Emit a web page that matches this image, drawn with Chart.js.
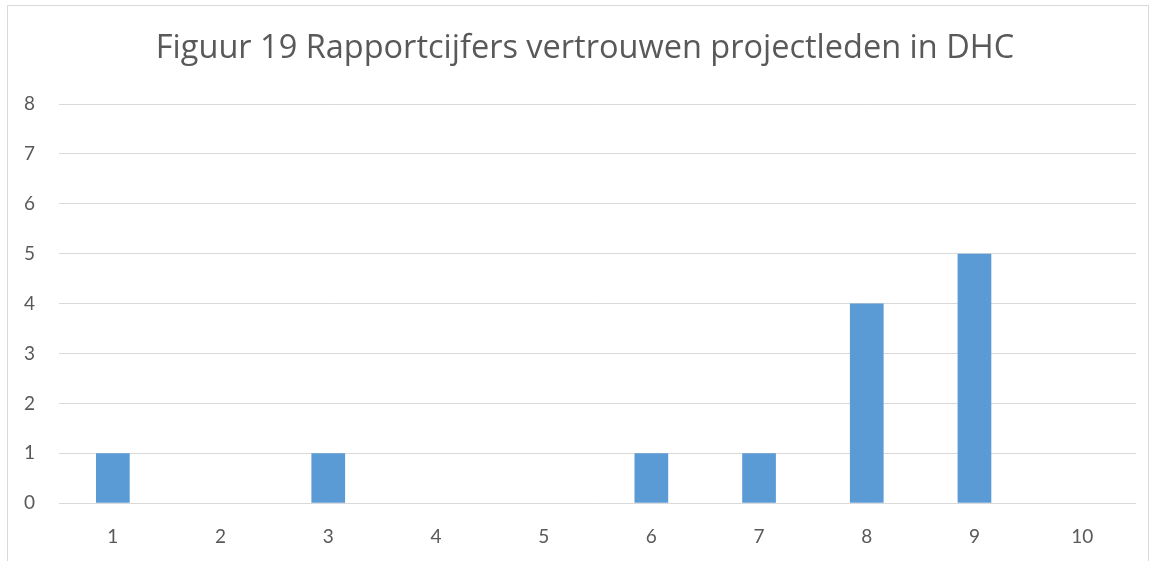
<!DOCTYPE html>
<html>
<head>
<meta charset="utf-8">
<script src="https://cdn.jsdelivr.net/npm/chart.js@4"></script>
<style>
  body { margin: 0; background: #fff; overflow: hidden; }
  #frame {
    position: absolute; left: 7px; top: 5px; width: 1140px; height: 560px;
    border: 1px solid #d9d9d9; border-bottom: none; background: #fff;
  }
  #wrap { position: absolute; left: 0; top: 1px; width: 1140px; height: 558px; }
</style>
</head>
<body>
<div id="frame"><div id="wrap"><canvas id="rapportChart"></canvas></div></div>
<script>
// rapportcijfers 1 t/m 10 en aantal projectleden per cijfer
var cijfers = ['1', '2', '3', '4', '5', '6', '7', '8', '9', '10'];
var aantallen = [1, 0, 1, 0, 0, 1, 1, 4, 5, 0];
var yTicks = [0, 1, 2, 3, 4, 5, 6, 7, 8];
var titel = 'Figuur 19 Rapportcijfers vertrouwen projectleden in DHC';

const tekstKleur = '#595959';
const lijnKleur = '#d9d9d9';

new Chart(document.getElementById('rapportChart'), {
  type: 'bar',
  data: {
    labels: cijfers,
    datasets: [{
      label: 'Aantal',
      data: aantallen,
      backgroundColor: '#5b9bd5',
      categoryPercentage: 1,
      barPercentage: 0.313
    }]
  },
  options: {
    responsive: true,
    maintainAspectRatio: false,
    animation: false,
    layout: { padding: { left: 14, right: 0, top: 0, bottom: 3 } },
    plugins: {
      legend: { display: false },
      tooltip: { enabled: false },
      title: {
        display: true,
        text: titel,
        color: tekstKleur,
        font: { family: 'Open Sans', size: 32.5, weight: 'normal' },
        padding: { top: 22, bottom: 36 }
      }
    },
    scales: {
      x: {
        grid: { display: false },
        border: { display: false },
        ticks: { color: tekstKleur, font: { family: 'Lato', size: 19 }, padding: 14 }
      },
      y: {
        min: 0,
        max: 8,
        afterFit: function(scale) { scale.width = 37; },
        afterBuildTicks: function(scale) { scale.ticks = yTicks.map(v => ({ value: v })); },
        grid: { color: lijnKleur, lineWidth: 1, drawTicks: false },
        border: { display: false },
        ticks: { color: tekstKleur, font: { family: 'Lato', size: 19 }, padding: 24 }
      },
      // lege as rechts, alleen voor wat ruimte naast het plotgebied
      rechts: {
        position: 'right',
        grid: { display: false },
        border: { display: false },
        ticks: { display: false },
        afterFit: function(scale) { scale.width = 12; }
      }
    }
  }
});
</script>
</body>
</html>
